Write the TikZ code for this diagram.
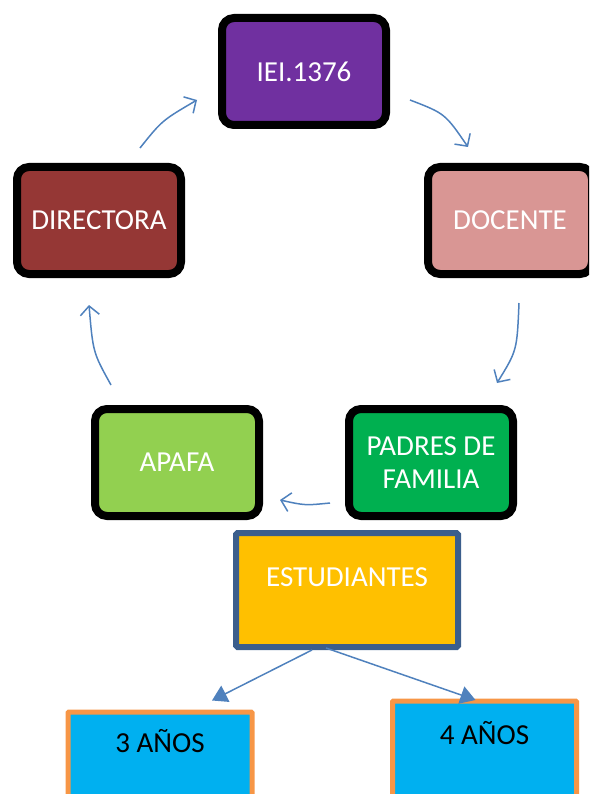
\documentclass[tikz,border=0pt]{standalone}
\usepackage{fontspec}
\setmainfont{Carlito}
\usetikzlibrary{arrows.meta,calc}
\definecolor{cPurple}{HTML}{7030A0}
\definecolor{cDir}{HTML}{953735}
\definecolor{cDoc}{HTML}{D99694}
\definecolor{cApafa}{HTML}{92D050}
\definecolor{cPadres}{HTML}{00B050}
\definecolor{cEst}{HTML}{FFC000}
\definecolor{cEstB}{HTML}{3B5E8C}
\definecolor{cAnos}{HTML}{00B0F0}
\definecolor{cAnosB}{HTML}{F79646}
\definecolor{cArrow}{HTML}{4F81BD}
\tikzset{
  rbox/.style={draw=black,line width=8pt,rounded corners=12pt,minimum width=164pt,minimum height=107pt,inner sep=0pt,text=white,align=center,font=\fontsize{29}{33}\selectfont},
  estbox/.style={draw=cEstB,fill=cEst,line width=6pt,rounded corners=1.5pt,minimum width=222pt,minimum height=114pt,inner sep=0pt},
  anobox/.style={draw=cAnosB,fill=cAnos,line width=5pt,rounded corners=1pt,minimum width=184pt,minimum height=200pt,inner sep=0pt,anchor=north},
  lbl/.style={font=\fontsize{29}{33}\selectfont,inner sep=0pt},
  cyc/.style={draw=cArrow,line width=1.5pt,-{Straight Barb[length=9pt,width=19pt,line width=1.5pt]}},
  tri/.style={draw=cArrow,line width=1.5pt,-{Triangle[length=15pt,width=18pt]}}
}
\begin{document}
\begin{tikzpicture}[x=1pt,y=-1pt]
\useasboundingbox (0,0) rectangle (589,794);
\clip (0,0) rectangle (589,794);
\node[rbox,fill=cPurple] (iei) at (304,71.5) {IEI.1376};
\node[rbox,fill=cDir] (dir) at (99,220.5) {DIRECTORA};
\node[rbox,fill=cDoc] (doc) at (510,220.5) {DOCENTE};
\node[rbox,fill=cApafa] (apafa) at (177,462.5) {APAFA};
\node[rbox,fill=cPadres] (padres) at (431,462.5) {PADRES DE\\FAMILIA};
\node[estbox] (est) at (347,590) {};
\node[lbl,white] (esttxt) at ($(est.center)+(0,-13)$) {ESTUDIANTES};
\node[anobox] (a3) at (160,709.5) {};
\node[lbl,black] (a3txt) at ($(a3.north)+(0,32)$) {3 AÑOS};
\node[anobox] (a4) at (484.5,698.5) {};
\node[lbl,black] (a4txt) at ($(a4.north)+(0,35)$) {4 AÑOS};
% cycle arrows
\draw[cyc] ($(dir.center)+(41,-72.5)$) .. controls ($(dir.center)+(63,-100)$) .. ($(iei.center)+(-107,28.5)$);
\draw[cyc] ($(iei.center)+(106,28.5)$) .. controls ($(iei.center)+(141,42)$) .. ($(doc.center)+(-42,-73.5)$);
\draw[cyc] ($(doc.center)+(9,82.5)$) .. controls ($(doc.center)+(7,130)$) .. ($(padres.center)+(66,-79.5)$);
\draw[cyc] ($(padres.center)+(-101,40.5)$) .. controls ($(padres.center)+(-126,43)$) .. ($(apafa.center)+(103,37.5)$);
\draw[cyc] ($(apafa.center)+(-66,-77.5)$) .. controls ($(apafa.center)+(-84,-110)$) .. ($(dir.center)+(-10,84.5)$);
% tree arrows
\draw[tri] ($(est.south)+(-35,0)$) -- ($(a3.north)+(52,-9)$);
\draw[tri] ($(est.south)+(-21,-2)$) -- ($(a4.north)+(-9,1.5)$);
\end{tikzpicture}
\end{document}
